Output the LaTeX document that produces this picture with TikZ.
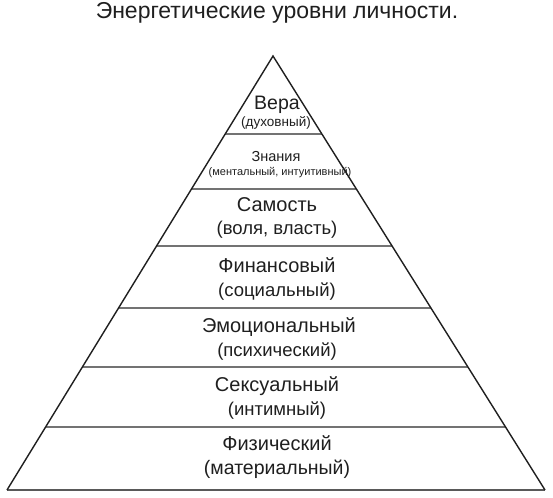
\documentclass[tikz,border=0pt]{standalone}
\usepackage{fontspec}
\setmainfont{Liberation Sans}
\usetikzlibrary{calc}
\begin{document}
\begin{tikzpicture}[x=1bp,y=-1bp,
  lbl/.style={anchor=base,inner sep=0pt,text=black!88,font=\fontsize{20bp}{24bp}\selectfont},
  sublbl/.style={lbl,font=\fontsize{18.5bp}{22bp}\selectfont},
  toplbl/.style={lbl,font=\fontsize{19.5bp}{22bp}\selectfont},
  topsub/.style={lbl,font=\fontsize{13.5bp}{16bp}\selectfont},
  knlbl/.style={lbl,font=\fontsize{14.5bp}{17bp}\selectfont},
  knsub/.style={lbl,font=\fontsize{11bp}{13bp}\selectfont},
  sep/.style={draw=black!55,line width=1.3bp},
  side/.style={draw=black!88,line width=1.4bp,line join=miter},
  basel/.style={draw=black!65,line width=2.2bp}]
\useasboundingbox[fill=white] (0,0) rectangle (553,498);
% title
\node[lbl,font=\fontsize{23bp}{27bp}\selectfont] (title) at (277,19) {Энергетические уровни личности.};
% corners
\coordinate (A) at (273,56);
\coordinate (BL) at (7,490);
\coordinate (BR) at (545,490);
% separators
\foreach \n/\t in {1/0.1797,2/0.3065,3/0.4378,4/0.5806,5/0.7166,6/0.8548}{
  \coordinate (L\n) at ($(A)!\t!(BL)$);
  \coordinate (R\n) at ($(A)!\t!(BR)$);
  \draw[sep] (L\n) -- (R\n);
}
\draw[basel] (BL) -- (BR);
\draw[side] (BL) -- (A) -- (BR);
% labels
\node[toplbl] (vera) at (277,110) {Вера};
\node[topsub] (vera2) at (276,127) {(духовный)};
\node[knlbl] (zn) at (276,162) {Знания};
\node[knsub] (zn2) at (280,176) {(ментальный, интуитивный)};
\node[lbl] (sam) at (277,212) {Самость};
\node[sublbl] (sam2) at (277,234) {(воля, власть)};
\node[lbl] (fin) at (277,272) {Финансовый};
\node[sublbl] (fin2) at (277,296) {(социальный)};
\node[lbl] (emo) at (279,332) {Эмоциональный};
\node[sublbl] (emo2) at (277,356) {(психический)};
\node[lbl] (sex) at (277,391) {Сексуальный};
\node[sublbl] (sex2) at (277,415) {(интимный)};
\node[lbl] (fiz) at (277,450) {Физический};
\node[sublbl,font=\fontsize{19.5bp}{23bp}\selectfont] (fiz2) at (277,474) {(материальный)};
\end{tikzpicture}
\end{document}
